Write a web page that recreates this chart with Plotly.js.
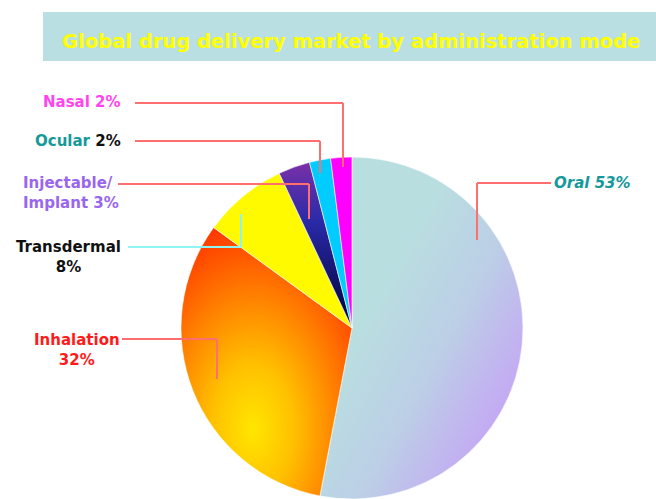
<!DOCTYPE html>
<html>
<head>
<meta charset="utf-8">
<script src="https://cdn.plot.ly/plotly-3.0.1.min.js"></script>
<style>
  html, body { margin: 0; padding: 0; background: #ffffff; }
  #chart { width: 656px; height: 499px; }
</style>
</head>
<body>
<div id="chart"></div>
<script>
// ---- data ----
const categories = ["Oral", "Inhalation", "Transdermal", "Injectable/ Implant", "Ocular", "Nasal"];
const shares = [53, 32, 8, 3, 2, 2];
const sliceColors = ["#BFD0E6", "#FF7A00", "#FFFA00", "#3A2090", "#00CCFF", "#FF00FF"];
const chartTitle = "Global drug delivery market by administration mode";

// ---- layout helpers (pixel -> paper) ----
const W = 656, H = 499;
const px = x => x / W;
const py = y => 1 - y / H;

const salmon = "#FF6F6F";
function leader(points, color) {
  const out = [];
  for (let i = 0; i < points.length - 1; i++) {
    out.push({type: "line", xref: "paper", yref: "paper",
      x0: px(points[i][0]), y0: py(points[i][1]),
      x1: px(points[i+1][0]), y1: py(points[i+1][1]),
      line: {color: color, width: 2}});
  }
  return out;
}

const shapes = [
  {type: "rect", xref: "paper", yref: "paper", x0: px(43), x1: px(656), y0: py(61), y1: py(12),
   fillcolor: "#BADFE2", line: {width: 0}, layer: "below"},
  ...leader([[135, 103], [343, 103], [343, 167]], salmon),
  ...leader([[135, 141], [320, 141], [320, 173]], salmon),
  ...leader([[118, 184], [309, 184], [309, 219]], salmon),
  ...leader([[128, 247], [241, 247], [241, 214]], "#8FF4F4"),
  ...leader([[122, 339], [217, 339], [217, 379]], salmon),
  ...leader([[551, 183], [477, 183], [477, 240]], salmon)
];

const lf = {family: "DejaVu Sans, sans-serif", size: 15};
function ann(text, x, y, xanchor, color, extra) {
  return Object.assign({xref: "paper", yref: "paper", x: px(x), y: py(y), xanchor: xanchor, yanchor: "middle",
    text: text, showarrow: false, font: Object.assign({}, lf, {color: color}), align: "center"}, extra || {});
}

const pct = v => v + "%";
const annotations = [
  {xref: "paper", yref: "paper", x: px(351), y: py(42), xanchor: "center", yanchor: "middle",
   text: "<b>" + chartTitle + "</b>", showarrow: false,
   font: {family: "DejaVu Sans, sans-serif", size: 19.5, color: "#FFFF00"}},
  ann("<b>" + categories[5] + " " + pct(shares[5]) + "</b>", 123, 102, "right", "#FF44EE"),
  ann("<b>" + categories[4] + " <span style='color:#111111'>" + pct(shares[4]) + "</span></b>", 123, 141, "right", "#15999A"),
  ann("<b>Injectable/<br>Implant " + pct(shares[3]) + "</b>", 21, 193, "left", "#9966EE", {align: "left"}),
  ann("<b>" + categories[2] + "<br>" + pct(shares[2]) + "</b>", 68, 257, "center", "#111111"),
  ann("<b>" + categories[1] + "<br>" + pct(shares[1]) + "</b>", 77, 350, "center", "#FF1A1A"),
  ann("<b><i>" + categories[0] + " " + pct(shares[0]) + "</i></b>", 552, 183, "left", "#15999A")
];

const trace = {
  type: "pie",
  labels: categories,
  values: shares,
  sort: false,
  direction: "clockwise",
  rotation: 0,
  textinfo: "none",
  hoverinfo: "label+percent",
  marker: {colors: sliceColors, line: {color: "#ffffff", width: 0.6}},
  domain: {x: [px(181), px(523)], y: [py(499), py(157)]},
  showlegend: false
};

const layout = {
  width: W, height: H,
  margin: {l: 0, r: 0, t: 0, b: 0},
  paper_bgcolor: "#ffffff",
  plot_bgcolor: "#ffffff",
  showlegend: false,
  shapes: shapes,
  annotations: annotations
};

Plotly.newPlot("chart", [trace], layout, {displayModeBar: false, staticPlot: true}).then(function (gd) {
  // add gradient fills to mimic the reference shading
  const svg = gd.querySelector("svg.main-svg");
  const NS = "http://www.w3.org/2000/svg";
  let defs = svg.querySelector("defs");
  if (!defs) { defs = document.createElementNS(NS, "defs"); svg.insertBefore(defs, svg.firstChild); }
  function grad(id, type, attrs, stops) {
    const g = document.createElementNS(NS, type);
    g.setAttribute("id", id);
    for (const k in attrs) g.setAttribute(k, attrs[k]);
    stops.forEach(function (s) {
      const st = document.createElementNS(NS, "stop");
      st.setAttribute("offset", s[0]);
      st.setAttribute("stop-color", s[1]);
      g.appendChild(st);
    });
    defs.appendChild(g);
  }
  grad("gOral", "linearGradient", {x1: "0.3", y1: "0.4", x2: "0.9", y2: "0.95"},
       [["0", "#B9DEE0"], ["0.4", "#BCCFE6"], ["1", "#C79AF9"]]);
  grad("gInh", "radialGradient", {cx: "0.42", cy: "0.75", r: "0.8"},
       [["0", "#FFE600"], ["0.3", "#FFC000"], ["0.6", "#FF8400"], ["1", "#FF3200"]]);
  grad("gInj", "linearGradient", {x1: "0", y1: "0", x2: "0", y2: "1"},
       [["0", "#7A30A8"], ["0.35", "#2A2AA8"], ["1", "#00003A"]]);
  const paths = gd.querySelectorAll("g.slice path.surface");
  const fills = {0: "url(#gOral)", 1: "url(#gInh)", 3: "url(#gInj)"};
  paths.forEach(function (p, i) { if (fills[i]) p.style.fill = fills[i]; });
});
</script>
</body>
</html>
